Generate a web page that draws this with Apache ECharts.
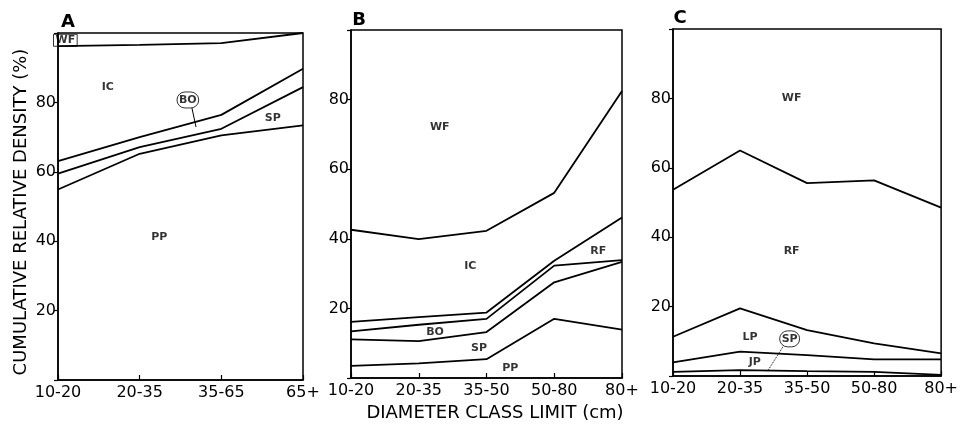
<!DOCTYPE html>
<html>
<head>
<meta charset="utf-8">
<script src="https://cdn.jsdelivr.net/npm/echarts@6/dist/echarts.min.js"></script>
<style>
html, body { margin: 0; padding: 0; background: #fff; }
#chart { width: 961px; height: 430px; }
</style>
</head>
<body>
<div id="chart"></div>
<script>
// diameter classes
const catsA = ['10-20', '20-35', '35-65', '65+'];
const catsBC = ['10-20', '20-35', '35-50', '50-80', '80+'];
const yTickLabels = [20, 40, 60, 80];

// panel A: cumulative upper boundary of each species band
const aPP = [54.9, 65.2, 70.5, 73.4];
const aSP = [59.5, 67.1, 72.4, 84.4];
const aBO = [63.1, 70.0, 76.4, 89.7];
const aIC = [96.2, 96.6, 97.1, 100];

// panel B
const bPP = [3.5, 4.2, 5.4, 17.0, 13.9];
const bSP = [11.1, 10.6, 13.2, 27.5, 33.4];
const bBO = [13.4, 15.3, 17.0, 32.3, 33.9];
const bRF = [16.1, 17.5, 18.8, 33.7, 46.1];
const bIC = [42.6, 39.9, 42.3, 53.2, 82.5];

// panel C
const cSP = [1.2, 1.7, 1.4, 1.2, 0.3];
const cJP = [3.9, 7.0, 6.0, 4.8, 4.8];
const cLP = [11.3, 19.5, 13.2, 9.4, 6.5];
const cRF = [53.7, 65.0, 55.6, 56.4, 48.5];

const FONT = 'DejaVu Sans';

// 三个面板的绘图区
const grids = [
  { left: 58, top: 33, width: 245, height: 347 },
  { left: 351, top: 30, width: 271, height: 348 },
  { left: 673, top: 29, width: 269, height: 347 }
];
const panelCats = [catsA, catsBC, catsBC];

const xAxes = panelCats.map((cats, i) => ({
  type: 'value',
  gridIndex: i,
  min: 0,
  max: cats.length - 1,
  interval: 1,
  axisLine: { show: true, lineStyle: { color: '#000', width: 1.5 } },
  axisTick: { show: true, inside: true, length: 5, lineStyle: { color: '#000', width: 1.2 } },
  splitLine: { show: false },
  axisLabel: {
    margin: 5,
    color: '#000',
    fontSize: 16,
    fontFamily: FONT,
    formatter: v => cats[v] || ''
  }
}));

const yAxes = grids.map((g, i) => ({
  type: 'value',
  gridIndex: i,
  min: 0,
  max: 100,
  interval: 20,
  axisLine: { show: true, lineStyle: { color: '#000', width: 1.5 } },
  axisTick: { show: true, length: 4, lineStyle: { color: '#000', width: 1.2 } },
  splitLine: { show: false },
  axisLabel: {
    margin: 2,
    color: '#000',
    fontSize: 16,
    fontFamily: FONT,
    formatter: v => yTickLabels.includes(v) ? String(v) : ''
  }
}));

// 分界线
const boundary = (vals, i) => ({
  type: 'line',
  xAxisIndex: i,
  yAxisIndex: i,
  data: vals.map((v, k) => [k, v]),
  symbol: 'none',
  lineStyle: { color: '#000', width: 1.8 },
  silent: true
});

// 区域标注（数据坐标）
const regionLabels = [
  [
    { name: 'WF', value: [0.09, 97.9], boxed: true },
    { name: 'IC', value: [0.61, 84.4] },
    { name: 'BO', value: [1.59, 80.7], circled: true },
    { name: 'SP', value: [2.63, 75.5] },
    { name: 'PP', value: [1.24, 41.2] }
  ],
  [
    { name: 'WF', value: [1.31, 72.1] },
    { name: 'IC', value: [1.76, 32.2] },
    { name: 'RF', value: [3.65, 36.5] },
    { name: 'BO', value: [1.24, 13.2] },
    { name: 'SP', value: [1.89, 8.6] },
    { name: 'PP', value: [2.35, 2.9] }
  ],
  [
    { name: 'WF', value: [1.77, 80.1] },
    { name: 'RF', value: [1.77, 36.0] },
    { name: 'LP', value: [1.15, 11.2] },
    { name: 'JP', value: [1.22, 4.0] },
    { name: 'SP', value: [1.74, 10.7], circled: true }
  ]
];

const leaders = [
  { panel: 0, pts: [[1.64, 78.4], [1.69, 72.9]], type: 'solid' },
  { panel: 2, pts: [[1.64, 8.4], [1.41, 1.4]], type: 'dotted' }
];

const labelSeries = regionLabels.map((items, i) => ({
  type: 'scatter',
  xAxisIndex: i,
  yAxisIndex: i,
  symbolSize: 1,
  itemStyle: { color: 'rgba(0,0,0,0)' },
  silent: true,
  data: items.map(it => {
    const label = {
      show: true,
      position: 'inside',
      formatter: '{b}',
      color: '#000',
      fontSize: 11,
      fontWeight: 'bold',
      fontFamily: FONT
    };
    if (it.circled) {
      Object.assign(label, { borderColor: '#000', borderWidth: 1, borderRadius: 10, padding: [3, 2, 2, 2] });
    }
    if (it.boxed) {
      Object.assign(label, { borderColor: '#000', borderWidth: 1, padding: [1, 2, 0, 2] });
    }
    return { name: it.name, value: it.value, label };
  })
}));

const leaderSeries = leaders.map(l => ({
  type: 'line',
  xAxisIndex: l.panel,
  yAxisIndex: l.panel,
  data: l.pts,
  symbol: 'none',
  lineStyle: { color: '#000', width: 1, type: l.type },
  silent: true
}));

const series = [
  boundary(aPP, 0), boundary(aSP, 0), boundary(aBO, 0), boundary(aIC, 0),
  boundary(bPP, 1), boundary(bSP, 1), boundary(bBO, 1), boundary(bRF, 1), boundary(bIC, 1),
  boundary(cSP, 2), boundary(cJP, 2), boundary(cLP, 2), boundary(cRF, 2),
  ...labelSeries,
  ...leaderSeries
];

const option = {
  backgroundColor: '#fff',
  animation: false,
  grid: grids.map(g => Object.assign({ show: true, borderColor: '#000', borderWidth: 1.5, backgroundColor: 'transparent' }, g)),
  xAxis: xAxes,
  yAxis: yAxes,
  series,
  graphic: [
    { type: 'text', x: 68, y: 22, style: { text: 'A', font: 'bold 18px "DejaVu Sans"', fill: '#000', textAlign: 'center', textVerticalAlign: 'middle' } },
    { type: 'text', x: 359, y: 20, style: { text: 'B', font: 'bold 18px "DejaVu Sans"', fill: '#000', textAlign: 'center', textVerticalAlign: 'middle' } },
    { type: 'text', x: 680, y: 18, style: { text: 'C', font: 'bold 18px "DejaVu Sans"', fill: '#000', textAlign: 'center', textVerticalAlign: 'middle' } },
    {
      type: 'text', x: 21, y: 212, rotation: Math.PI / 2,
      style: { text: 'CUMULATIVE RELATIVE DENSITY (%)', font: '18px "DejaVu Sans"', fill: '#000', textAlign: 'center', textVerticalAlign: 'middle' }
    },
    {
      type: 'text', x: 495, y: 413,
      style: { text: 'DIAMETER CLASS LIMIT (cm)', font: '18px "DejaVu Sans"', fill: '#000', textAlign: 'center', textVerticalAlign: 'middle' }
    }
  ]
};

const chart = echarts.init(document.getElementById('chart'), null, { renderer: 'canvas' });
chart.setOption(option);
</script>
</body>
</html>
